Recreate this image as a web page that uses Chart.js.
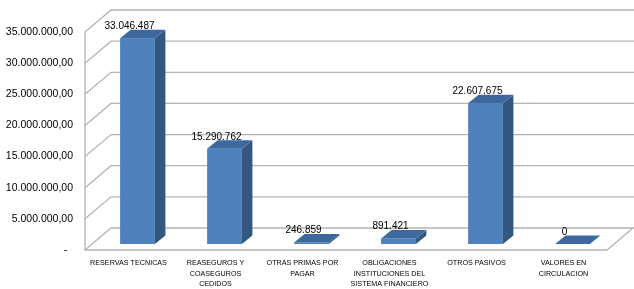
<!DOCTYPE html>
<html lang="es">
<head>
<meta charset="UTF-8">
<title>Pasivos</title>
<script src="https://cdn.jsdelivr.net/npm/chart.js"></script>
<style>
  body { margin: 0; background: #fff; }
  #wrap { width: 634px; height: 289px; position: relative; }
</style>
</head>
<body>
<div id="wrap"><canvas id="chart"></canvas></div>
<script>
const categories = [
  ['RESERVAS TECNICAS'],
  ['REASEGUROS Y', 'COASEGUROS', 'CEDIDOS'],
  ['OTRAS PRIMAS POR', 'PAGAR'],
  ['OBLIGACIONES', 'INSTITUCIONES DEL', 'SISTEMA FINANCIERO'],
  ['OTROS PASIVOS'],
  ['VALORES EN', 'CIRCULACION']
];
const values = [33046487, 15290762, 246859, 891421, 22607675, 0];
const yMax = 35000000;
const yStep = 5000000;

// 3d look: wall depth and bar depth, in pixels
const WALL = { dx: 26, dy: -22 };
const BAR_SHIFT = { dx: 9, dy: -6 };
const BAR_DEPTH = { dx: 10.5, dy: -8.5 };

function groupDots(n) {
    return String(Math.round(n)).replace(/\B(?=(\d{3})+(?!\d))/g, '.');
}

const box3d = {
    id: 'box3d',
    beforeDatasetsDraw(chart) {
        const ctx = chart.ctx;
        const y = chart.scales.y;
        const a = chart.chartArea;
        ctx.save();
        ctx.strokeStyle = '#b4b4b4';
        ctx.lineWidth = 1.3;
        y.ticks.forEach(t => {
            const py = y.getPixelForValue(t.value);
            ctx.beginPath();
            ctx.moveTo(a.left, py);
            ctx.lineTo(a.left + WALL.dx, py + WALL.dy);
            ctx.lineTo(chart.width, py + WALL.dy);
            ctx.stroke();
        });
        // front axis and floor
        ctx.beginPath();
        ctx.moveTo(a.left, a.top);
        ctx.lineTo(a.left, a.bottom);
        ctx.lineTo(a.right, a.bottom);
        ctx.lineTo(a.right + WALL.dx, a.bottom + WALL.dy);
        ctx.stroke();
        ctx.restore();
    },
    afterDatasetsDraw(chart) {
        const ctx = chart.ctx;
        const meta = chart.getDatasetMeta(0);
        ctx.save();
        meta.data.forEach((bar, i) => {
            const w = bar.width;
            const l = bar.x - w / 2 + BAR_SHIFT.dx;
            const r = l + w;
            const top = bar.y + BAR_SHIFT.dy;
            const bot = bar.base + BAR_SHIFT.dy;
            const bx = BAR_DEPTH.dx, by = BAR_DEPTH.dy;

            ctx.fillStyle = '#4f81bd';
            ctx.fillRect(l, top, w, bot - top);

            ctx.fillStyle = '#34577f';
            ctx.beginPath();
            ctx.moveTo(r, top);
            ctx.lineTo(r + bx, top + by);
            ctx.lineTo(r + bx, bot + by);
            ctx.lineTo(r, bot);
            ctx.closePath();
            ctx.fill();

            ctx.fillStyle = '#3d699f';
            ctx.beginPath();
            ctx.moveTo(l, top);
            ctx.lineTo(l + bx, top + by);
            ctx.lineTo(r + bx, top + by);
            ctx.lineTo(r, top);
            ctx.closePath();
            ctx.fill();
        });
        // value labels
        ctx.fillStyle = '#000';
        ctx.font = '10px "Liberation Sans"';
        ctx.textAlign = 'center';
        ctx.textBaseline = 'middle';
        meta.data.forEach((bar, i) => {
            ctx.fillText(groupDots(values[i]), bar.x + 1, bar.y - 18);
        });
        ctx.restore();
    }
};

new Chart(document.getElementById('chart'), {
    type: 'bar',
    data: {
        labels: categories,
        datasets: [{
            data: values,
            backgroundColor: 'rgba(0,0,0,0)',
            borderWidth: 0,
            categoryPercentage: 1,
            barPercentage: 0.4
        }]
    },
    options: {
        responsive: true,
        maintainAspectRatio: false,
        animation: false,
        layout: { padding: { top: 32, right: 27, left: 0, bottom: 0 } },
        plugins: {
            legend: { display: false },
            tooltip: { enabled: false }
        },
        scales: {
            x: {
                grid: { display: false, drawTicks: false },
                border: { display: false },
                ticks: {
                    autoSkip: false,
                    maxRotation: 0,
                    padding: 8,
                    color: '#000',
                    font: { family: 'Liberation Sans', size: 7.2, lineHeight: 1.45 }
                },
                afterFit: s => { s.height = 39; }
            },
            y: {
                min: 0,
                max: yMax,
                grid: { display: false, drawTicks: false },
                border: { display: false },
                ticks: {
                    stepSize: yStep,
                    padding: 12,
                    color: '#000',
                    font: { family: 'Liberation Sans', size: 10.5 },
                    callback: v => v === 0 ? '-  ' : groupDots(v) + ',00'
                },
                afterFit: s => { s.width = 85; }
            }
        }
    },
    plugins: [box3d]
});
</script>
</body>
</html>
